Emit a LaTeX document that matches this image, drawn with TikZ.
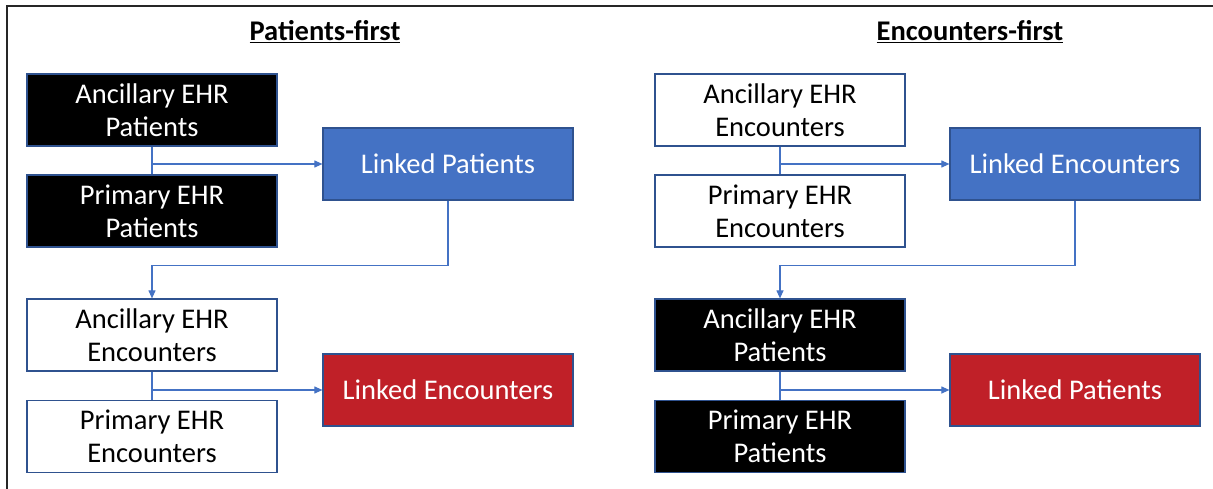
\documentclass[tikz,border=0pt]{standalone}
\usepackage{fontspec}
\setmainfont{Carlito}
\usetikzlibrary{calc,arrows.meta}

\definecolor{boxblue}{RGB}{68,114,196}
\definecolor{boxred}{RGB}{192,32,40}
\definecolor{edgeblue}{RGB}{47,82,143}
\definecolor{lineblue}{RGB}{68,114,196}

\begin{document}
\begin{tikzpicture}
[x=1pt,y=1pt,every node/.style={shape=rectangle,inner
	sep=0pt,draw=edgeblue,line width=1.2pt,minimum width=250pt,minimum height=72pt,
	align=center,font=\fontsize{28.5}{33}\selectfont},
blackbox/.style={fill=black,text=white},
whitebox/.style={fill=white,text=black},
bluebox/.style={fill=boxblue,text=white},
redbox/.style={fill=boxred,text=white},
heading/.style={draw=none,minimum width=0pt,minimum height=0pt,font=\fontsize{28.5}{33}\selectfont\bfseries},
link/.style={draw=lineblue,line width=1.1pt,-{Triangle[length=8pt,width=7pt]}}]
\useasboundingbox (0,0) rectangle (1213,-489);
\draw[line width=1.5pt,black!85] (7,-489) -- (7,-6) -- (1213,-6);

% Patients-first
\node[heading] (t1) at (325,-32) {\underline{Patients-first}};
\node[blackbox] (a1) at (152,-110) {Ancillary EHR\\Patients};
\node[blackbox] (p1) at (152,-211) {Primary EHR\\Patients};
\node[bluebox] (lp) at (448,-164) {Linked Patients};
\node[whitebox] (a2) at (152,-335) {Ancillary EHR\\Encounters};
\node[whitebox] (p2) at (152,-436.5) {Primary EHR\\Encounters};
\node[redbox] (le) at (448,-390) {Linked Encounters};

% Encounters-first
\node[heading] (t2) at (970,-32) {\underline{Encounters-first}};
\node[whitebox] (a3) at (780,-110) {Ancillary EHR\\Encounters};
\node[whitebox] (p3) at (780,-211) {Primary EHR\\Encounters};
\node[bluebox] (le2) at (1075,-164) {Linked Encounters};
\node[blackbox] (a4) at (780,-335) {Ancillary EHR\\Patients};
\node[blackbox] (p4) at (780,-436.5) {Primary EHR\\Patients};
\node[redbox] (lp2) at (1075,-390) {Linked Patients};

\path
\foreach \topNode/\botNode/\linkNode in {a1/p1/lp,a2/p2/le,a3/p3/le2,a4/p4/lp2}
{
	(\topNode.south) edge[draw=lineblue,line width=1.1pt] (\botNode.north)
	(\topNode.south |- \linkNode.west) edge[link] (\linkNode.west)
};
\draw[link] (lp.south) -- ++(0,-65) -| (a2.north);
\draw[link] (le2.south) -- ++(0,-65) -| (a4.north);
\end{tikzpicture}
\end{document}
